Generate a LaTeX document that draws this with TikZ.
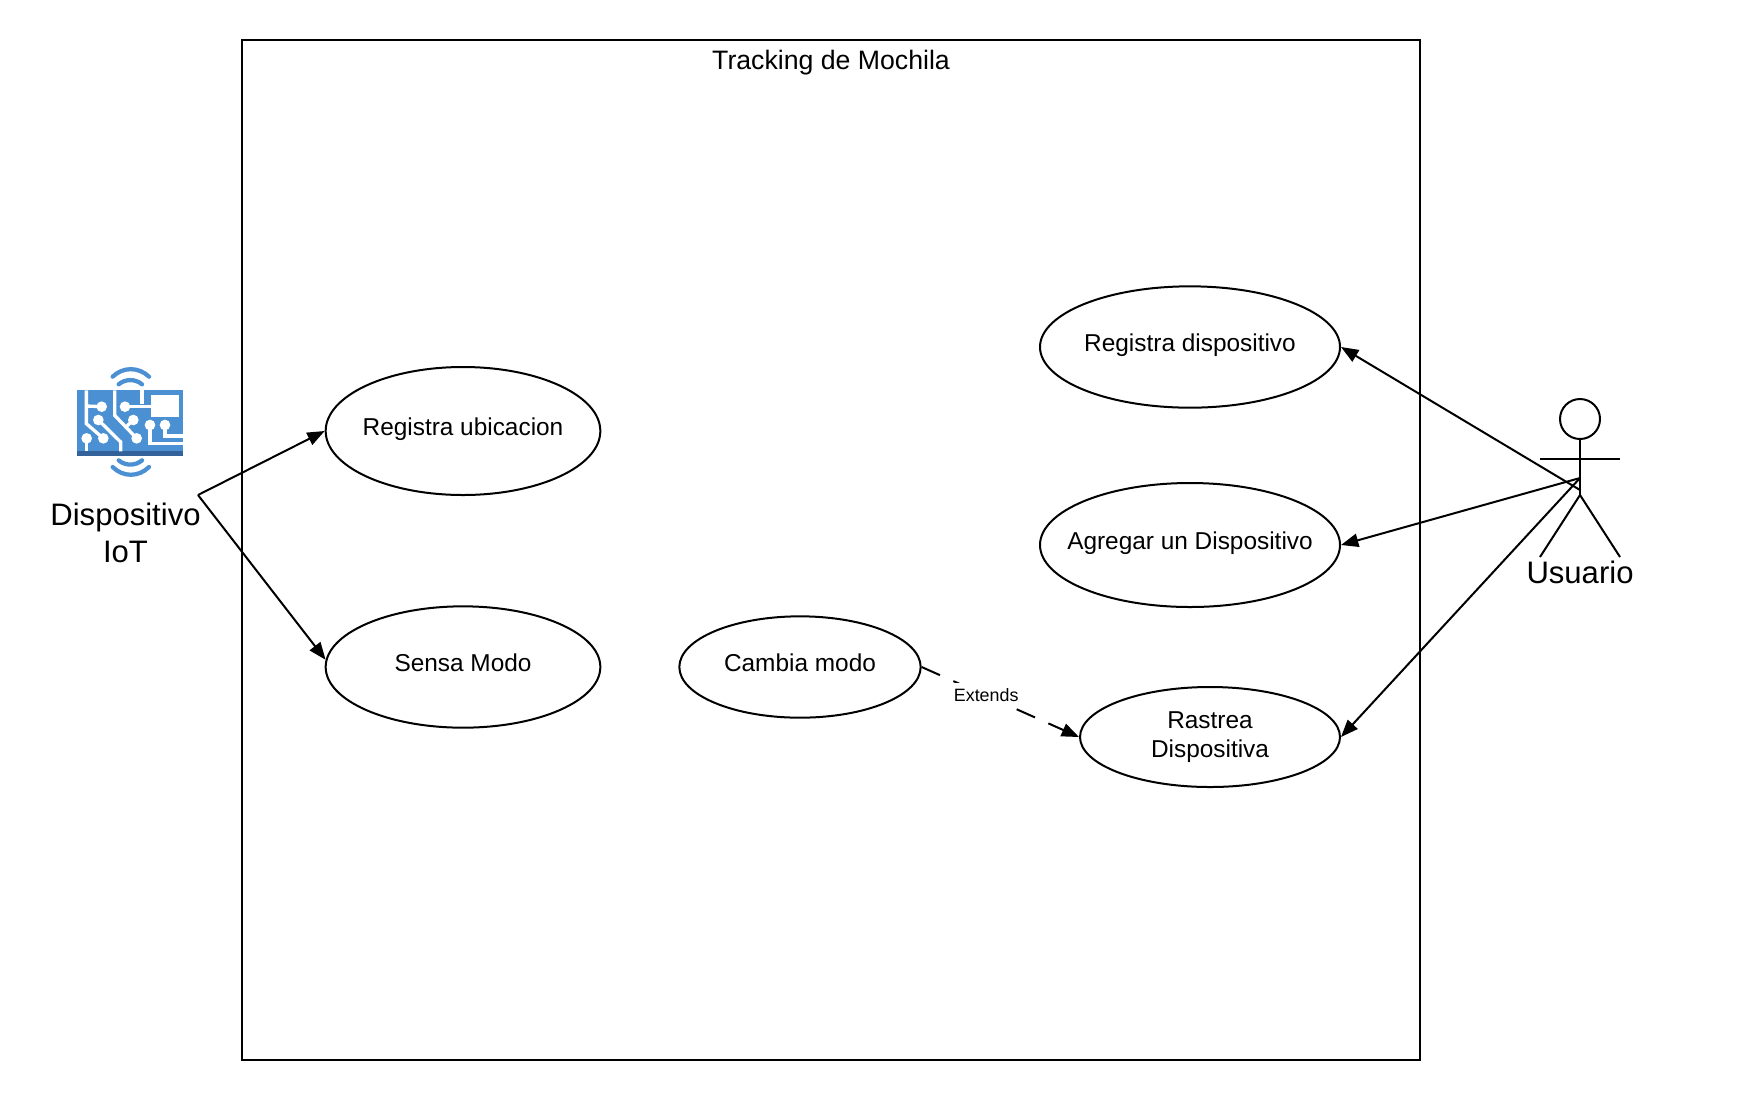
\documentclass[tikz,border=0pt]{standalone}
\usepackage{fontspec}
\setmainfont{Liberation Sans}
\usetikzlibrary{shapes.geometric,arrows.meta}

\definecolor{iotblue}{HTML}{4A90D2}
\definecolor{iotdark}{HTML}{33619A}

\begin{document}
\begin{tikzpicture}[x=0.75pt, y=-0.75pt, line width=1.5pt,
	>={Triangle[length=13pt,width=10pt]},
	usecase/.style={ellipse, draw, inner xsep=-30pt, inner ysep=-5pt, align=center, font=\fontsize{18.3}{20}\selectfont},
	oneline/.style={text depth=0.03em, text height=0.72em},
	actorname/.style={align=center, font=\fontsize{23.3}{27.7}\selectfont}]
	\useasboundingbox (0, 0) rectangle (1740, 1100);

	\node [draw, minimum width=883.5pt, minimum height=764.5pt, inner sep=0pt] (frame) at (831, 550) {};
	\node [font=\fontsize{20}{22}\selectfont] (title) at (831, 62.5) {Tracking de Mochila};

	\node [usecase, oneline, minimum width=206pt, minimum height=96pt] (ubicacion) at (463, 431) {Registra ubicacion};
	\node [usecase, oneline, minimum width=206pt, minimum height=91pt] (sensa) at (463, 667) {Sensa Modo};
	\node [usecase, oneline, minimum width=181pt, minimum height=76pt] (cambia) at (800, 667) {Cambia modo};
	\node [usecase, minimum width=195pt, minimum height=75pt] (rastrea) at (1210, 737) {Rastrea\\[1.8pt]Dispositiva};
	\node [usecase, oneline, minimum width=225pt, minimum height=91pt] (registra) at (1190, 347) {Registra dispositivo};
	\node [usecase, oneline, minimum width=225pt, minimum height=93pt] (agregar) at (1190, 545) {Agregar un Dispositivo};

	% actor
	\node [circle, draw, minimum size=30pt, inner sep=0pt] (head) at (1580, 419) {};
	\coordinate (hip) at (1580, 495);
	\coordinate (handl) at (1540, 459);
	\coordinate (handr) at (1620, 459);
	\coordinate (footl) at (1540, 557);
	\coordinate (footr) at (1620, 557);
	\draw (head) -- (hip);
	\draw (handl) -- (handr);
	\draw (footl) -- (hip) -- (footr);
	\node [actorname] (usuario) at (1580, 572) {Usuario};
	\coordinate (usr1) at (1580, 490);
	\coordinate (usr2) at (1580, 478);

	% icon
	\begin{scope}[shift={(68, 352)}, x=0.25pt, y=-0.25pt]
		\fill [iotblue] (28, 115) rectangle (345, 310);
		\fill [iotdark] (28, 298) rectangle (345, 311);
		\draw [iotblue, line width=3.2pt, line cap=round] (134, 74) .. controls (165, 44) and (212, 44) .. (243, 74);
		\draw [iotblue, line width=3.2pt, line cap=round] (152, 97) .. controls (172, 80) and (202, 80) .. (222, 97);
		\draw [iotblue, line width=3.2pt, line cap=round] (134, 345) .. controls (165, 376) and (212, 376) .. (243, 345);
		\draw [iotblue, line width=3.2pt, line cap=round] (152, 325) .. controls (172, 342) and (202, 342) .. (222, 325);
		\fill [white] (250, 128) rectangle (332, 196);
		\begin{scope}[white, line width=2.5pt]
			\draw (55, 115) -- (55, 215) -- (106, 259);
			\draw (55, 162) -- (101, 164);
			\draw (140, 115) -- (140, 190) -- (206, 259);
			\draw (91, 204) -- (158, 270) -- (158, 298);
			\draw (222, 115) -- (222, 155);
			\draw (171, 164) -- (250, 164);
			\draw (196, 204) -- (170, 228);
			\draw (246, 219) -- (246, 275) -- (345, 275);
			\draw (291, 219) -- (291, 252) -- (345, 252);
			\draw (56, 259) -- (56, 298);
			\fill (101, 164) circle (4pt);
			\fill (171, 164) circle (4pt);
			\fill (91, 204) circle (4pt);
			\fill (196, 204) circle (4pt);
			\fill (106, 259) circle (4pt);
			\fill (206, 259) circle (4pt);
			\fill (246, 219) circle (4pt);
			\fill (291, 219) circle (4pt);
			\fill (56, 259) circle (4pt);
		\end{scope}
	\end{scope}
	\node [actorname] (iot) at (125.5, 533) {Dispositivo\\IoT};
	\coordinate (iotpin) at (198, 495);

	\draw [->] (iotpin) to (ubicacion.west);
	\draw [->] (iotpin) to (sensa.177);

	\draw [->] (usr1) to (registra.east);
	\draw [->] (usr2) to (agregar.east);
	\draw [->] (usr2) to (rastrea.east);

	\draw [->, dash pattern=on 15pt off 11pt] (cambia.east) to node [pos=0.41, yshift=0.75pt, fill=white, inner xsep=1pt, inner ysep=4pt, font=\fontsize{13.4}{15}\selectfont] (extends) {Extends} (rastrea.west);
\end{tikzpicture}
\end{document}
